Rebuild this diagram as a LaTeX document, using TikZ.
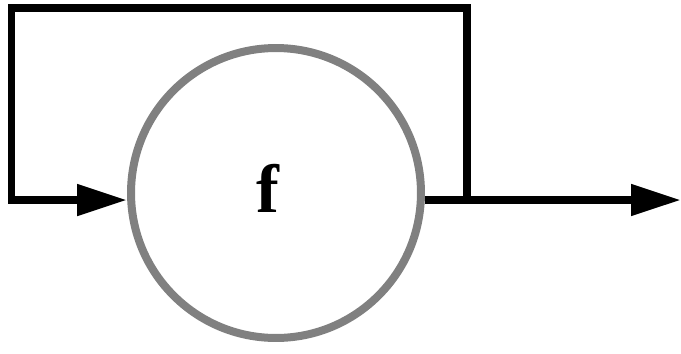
\documentclass[tikz,border=0pt]{standalone}
\usepackage{fontspec}
\setmainfont{Liberation Serif}
\usetikzlibrary{arrows.meta}
\tikzstyle{block} = [circle, draw=gray, line width=4.55pt, minimum size=5.8cm, inner sep=0pt, font=\fontsize{39}{40}\selectfont\bfseries]
\tikzstyle{wire} = [line width=4.55pt, line join=miter]
\tikzstyle{arrow} = [wire, -{Triangle[length=1cm, width=0.6cm]}]

\begin{document}
\begin{tikzpicture}[x=0.02cm, y=-0.02cm]
\useasboundingbox (0,0) rectangle (681,353);
\node (f) [block] at (276,193) {\hspace{-0.32cm}\raisebox{0.18cm}{f}};
\coordinate (split) at (467,200);
\coordinate (loop) at (11.5,8);
\coordinate (out) at (681,200);
% forward path
\draw [wire] (f.east |- split) -- (split);
\draw [arrow] (split) -- (out);
% feedback around the top
\draw [arrow] (split) |- (loop) |- (f.west |- split);
\end{tikzpicture}
\end{document}
